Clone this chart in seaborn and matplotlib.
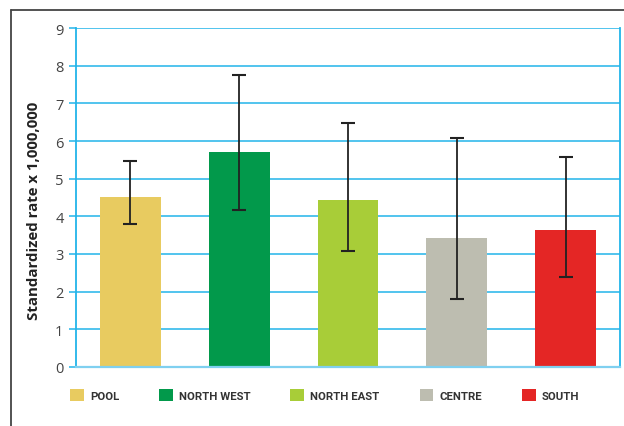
import matplotlib
matplotlib.use("Agg")
import matplotlib.pyplot as plt
from matplotlib.lines import Line2D
from matplotlib.patches import Patch
import seaborn as sns
import pandas as pd

categories = ["POOL", "NORTH WEST", "NORTH EAST", "CENTRE", "SOUTH"]
rates = [4.51, 5.71, 4.43, 3.42, 3.64]
ci_low = [3.79, 4.18, 3.09, 1.80, 2.40]
ci_high = [5.48, 7.75, 6.48, 6.07, 5.57]
colors = ["#e8cb60", "#02994b", "#a8cd38", "#bdbdb0", "#e42625"]
yticks = [0, 1, 2, 3, 4, 5, 6, 7, 8, 9]

sns.set_theme(style="white")
plt.rcParams["font.family"] = ["Open Sans", "DejaVu Sans"]

df = pd.DataFrame({"region": categories, "rate": rates})

fig = plt.figure(figsize=(6.24, 4.27), dpi=100)
ax = fig.add_axes([76 / 624, 1 - 368 / 427, 544 / 624, 339 / 427])

grid_c = "#22b4e9"
for y in yticks[1:]:
    ax.axhline(y, color=grid_c, lw=1.1, zorder=0)

sns.barplot(data=df, x="region", y="rate", hue="region", palette=colors,
            order=categories, hue_order=categories, width=0.56,
            legend=False, ax=ax, zorder=2, saturation=1, linewidth=0,
            edgecolor="none")

xs = list(range(len(categories)))
yerr = [[r - l for r, l in zip(rates, ci_low)], [h - r for r, h in zip(rates, ci_high)]]
ax.errorbar(xs, rates, yerr=yerr, fmt="none", ecolor="#222222", elinewidth=1.3,
            capsize=4.7, capthick=1.5, zorder=3)

ax.set_xlim(-0.5, 4.5)
ax.set_ylim(0, 9)
ax.set_yticks(yticks)
ax.set_yticklabels([str(t) for t in yticks], color="#444444", fontsize=10.5)
ax.set_xticks([])
ax.set_xlabel("")
ax.set_ylabel("Standardized rate x 1,000,000", fontsize=10.8, fontweight="bold",
              color="#222222")
ax.yaxis.set_label_coords((41 - 76) / 544, (368 - 211) / 339)
ax.tick_params(axis="y", length=5, width=1.1, color=grid_c, left=True, pad=4)

for side in ["left", "right"]:
    ax.spines[side].set_color(grid_c)
    ax.spines[side].set_linewidth(1.3)
ax.spines["top"].set_visible(False)
ax.spines["bottom"].set_color("#7fd0f0")
ax.spines["bottom"].set_linewidth(1.6)

handles = [Patch(facecolor=c, edgecolor="none") for c in colors]
leg = fig.legend(handles, categories, loc="center left", bbox_to_anchor=(70 / 624, 1 - 396 / 427),
                 ncol=5, frameon=False, handlelength=1.2, handleheight=1.2,
                 handletextpad=0.55, columnspacing=3.5, borderaxespad=0, borderpad=0,
                 prop={"family": ["Roboto", "DejaVu Sans"], "weight": "bold", "size": 8.2})
for t in leg.get_texts():
    t.set_color("#333333")

fig.add_artist(Line2D([11 / 624, 1], [1 - 10.5 / 427, 1 - 10.5 / 427],
                      transform=fig.transFigure, color="#444444", lw=1.3))
fig.add_artist(Line2D([11 / 624, 11 / 624], [0, 1 - 10.5 / 427],
                      transform=fig.transFigure, color="#444444", lw=1.3))

fig.savefig("out.png", dpi=100)
